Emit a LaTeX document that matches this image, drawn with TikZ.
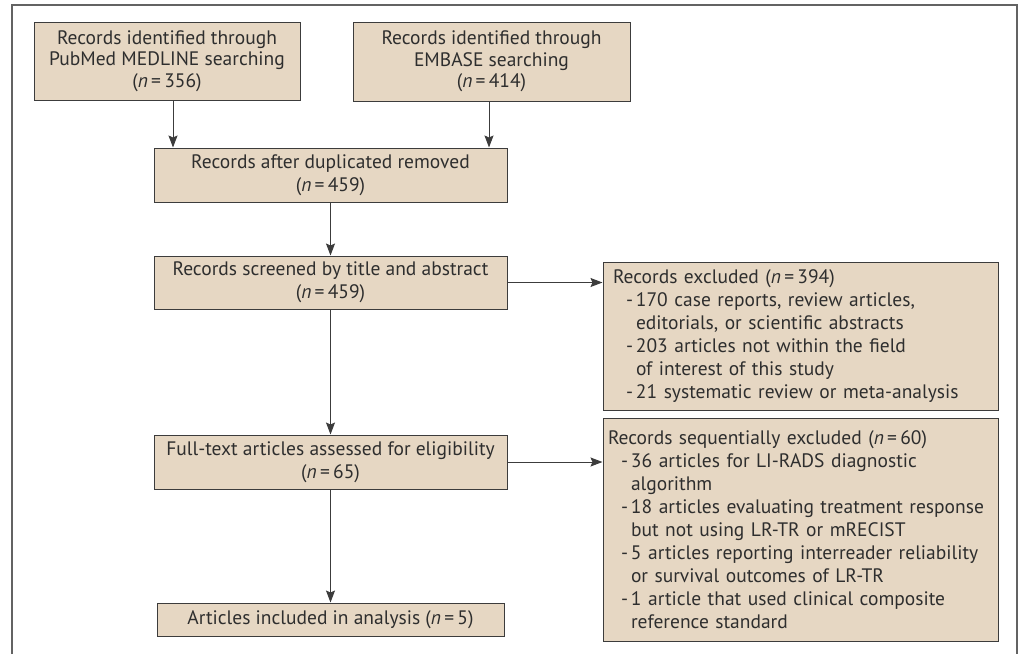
\documentclass[tikz,border=0pt]{standalone}
\usepackage{fontspec}
\setmainfont{PT Sans}
\usetikzlibrary{arrows.meta}
\definecolor{boxfill}{HTML}{E6D7C3}
\definecolor{boxline}{HTML}{3C3C3C}
\definecolor{txt}{HTML}{2E2E2E}
\tikzset{
  box/.style={draw=boxline, line width=1pt, fill=boxfill, text=txt, align=center, inner sep=0pt,
    font=\fontsize{19.5}{23}\selectfont},
  tbox/.style={box, font=\fontsize{19.5}{21.5}\selectfont},
  lbox/.style={box, align=left, text width=#1},
  arr/.style={draw=boxline, line width=1pt, -{Stealth[length=12pt,width=9pt,inset=2pt]}},
  frame/.style={draw=boxline!80, line width=1.2pt}
}
\newcommand{\nn}[1]{(\textit{n}\,=\,#1)}
\newcommand{\itm}{\hspace*{13pt}\makebox[10pt][l]{-}}
\newcommand{\cnt}{\hspace*{23pt}}
\begin{document}
\begin{tikzpicture}[x=1pt,y=-1pt]
\useasboundingbox (0,0) rectangle (1019,654);
\draw[frame] (12,654) -- (12,5) -- (1017,5) -- (1017,654);

\node[tbox, minimum width=266pt, minimum height=78pt] (b1) at (167,61)
  {Records identified through\\PubMed MEDLINE searching\\\nn{356}};
\node[tbox, minimum width=277pt, minimum height=79pt] (b2) at (491.5,61.5)
  {Records identified through\\EMBASE searching\\\nn{414}};
\node[box, minimum width=353pt, minimum height=54pt] (b3) at (330.5,175)
  {Records after duplicated removed\\\nn{459}};
\node[box, minimum width=353pt, minimum height=53pt] (b4) at (330.5,282.5)
  {Records screened by title and abstract\\\nn{459}};
\node[box, minimum width=353pt, minimum height=54pt] (b6) at (330.5,462)
  {Full-text articles assessed for eligibility\\\nn{65}};
\node[box, minimum width=347pt, minimum height=33pt] (b8) at (330.5,619.5)
  {Articles included in analysis \nn{5}};

\node[lbox=375pt, minimum width=395pt, minimum height=148pt] (b5) at (800.5,336)
  {Records excluded \nn{394}\\
   \itm 170 case reports, review articles,\\
   \cnt editorials, or scientific abstracts\\
   \itm 203 articles not within the field\\
   \cnt of interest of this study\\
   \itm 21 systematic review or meta-analysis};
\node[lbox=385pt, minimum width=395pt, minimum height=223pt] (b7) at (800.5,529.5)
  {Records sequentially excluded \nn{60}\\
   \itm 36 articles for LI-RADS diagnostic\\
   \cnt algorithm\\
   \itm 18 articles evaluating treatment response\\
   \cnt but not using LR-TR or mRECIST\\
   \itm 5 articles reporting interreader reliability\\
   \cnt or survival outcomes of LR-TR\\
   \itm 1 article that used clinical composite\\
   \cnt reference standard};

\draw[arr] ([xshift=6pt]b1.south) -- ([xshift=6pt]b1.south |- b3.north);
\draw[arr] ([xshift=-2.5pt]b2.south) -- ([xshift=-2.5pt]b2.south |- b3.north);
\draw[arr] (b3.south) -- (b4.north);
\draw[arr] (b4.south) -- (b6.north);
\draw[arr] (b6.south) -- (b8.north);
\draw[arr] (b4.east) -- (b4.east -| b5.west);
\draw[arr] (b6.east) -- (b6.east -| b7.west);
\end{tikzpicture}
\end{document}
